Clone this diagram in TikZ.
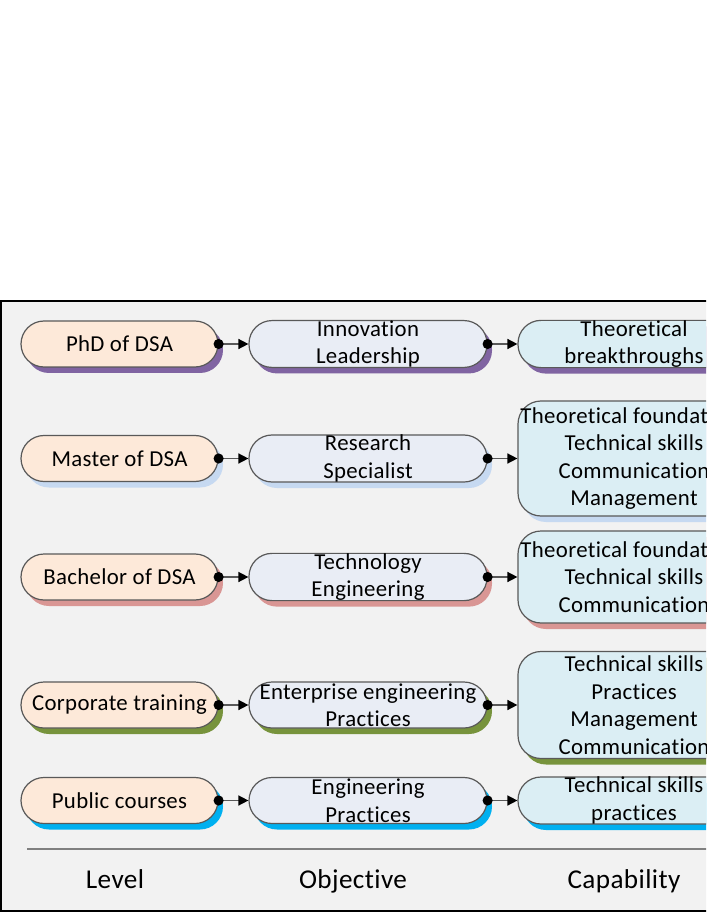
\documentclass[tikz,border=0pt]{standalone}
\usepackage{xcolor}
\usepackage{fontspec}
\setmainfont{Carlito}[Ligatures=NoCommon, LetterSpace=1.5]
\usepackage{tikz}
\usetikzlibrary{arrows.meta,shadows}

\definecolor{bggray}{HTML}{F2F2F2}
\definecolor{levelfill}{HTML}{FDE9D9}
\definecolor{objfill}{HTML}{E9EDF5}
\definecolor{capfill}{HTML}{DBEEF4}
\definecolor{phdshade}{HTML}{8064A2}
\definecolor{mastershade}{HTML}{C6D9F1}
\definecolor{bachshade}{HTML}{D99694}
\definecolor{corpshade}{HTML}{77933C}
\definecolor{pubshade}{HTML}{00B0F0}

\begin{document}
\begin{tikzpicture}[
    x=0.5pt, y=-0.5pt,
    box/.style={
        draw=black!65,
        line width=0.6pt,
        rounded corners=11.5pt,
        align=center,
        inner sep=0pt,
        minimum height=23pt,
        font=\fontsize{11.4}{13.75}\selectfont
    },
    levelbox/.style={box, fill=levelfill, minimum width=98.5pt},
    objbox/.style={box, fill=objfill, minimum width=119pt},
    capbox/.style={box, fill=capfill, minimum width=116pt},
    backing/.style={
        drop shadow={shadow xshift=2.5pt, shadow yshift=-3pt, fill=#1, opacity=1}
    },
    link/.style={
        draw=black!65,
        line width=0.75pt,
        shorten <=-2.5pt,
        {Circle[length=5pt,black]}-{Triangle[length=5pt,width=5pt,black]}
    },
    colhead/.style={font=\fontsize{13.6}{16}\selectfont, anchor=base}
]
    \useasboundingbox (0,0) rectangle (706,913);
    \clip (0,0) rectangle (706,913);
    \fill[white] (0,0) rectangle (706,913);
    \draw[fill=bggray, line width=1pt] (1,301) rectangle (780,911);

    \node[levelbox, backing=phdshade] (phd) at (119.5,344) {PhD of DSA};
    \node[objbox, backing=phdshade] (phdobj) at (368,344) {Innovation\\Leadership};
    \node[capbox, backing=phdshade] (phdcap) at (634,344) {Theoretical\\breakthroughs};

    \node[levelbox, backing=mastershade] (master) at (119.5,458.5) {Master of DSA};
    \node[objbox, backing=mastershade] (masterobj) at (368,458.5) {Research\\Specialist};
    \node[capbox, backing=mastershade, minimum height=57.5pt] (mastercap) at (634,458.5)
        {Theoretical foundations\\Technical skills\\Communication\\Management};

    \node[levelbox, backing=bachshade] (bachelor) at (119.5,577) {Bachelor of DSA};
    \node[objbox, backing=bachshade] (bachelorobj) at (368,577) {Technology\\Engineering};
    \node[capbox, backing=bachshade, minimum height=46pt] (bachelorcap) at (634,577)
        {Theoretical foundations\\Technical skills\\Communication};

    \node[levelbox, backing=corpshade] (corporate) at (119.5,705) {Corporate training};
    \node[objbox, backing=corpshade] (corporateobj) at (368,705) {Enterprise engineering\\Practices};
    \node[capbox, backing=corpshade, minimum height=53.5pt] (corporatecap) at (634,705)
        {Technical skills\\Practices\\Management\\Communication};

    \node[levelbox, backing=pubshade] (public) at (119.5,800.5) {Public courses};
    \node[objbox, backing=pubshade] (publicobj) at (368,800.5) {Engineering\\Practices};
    \node[capbox, backing=pubshade] (publiccap) at (634,800.5) {Technical skills\\practices};

    \foreach \row in {phd,master,bachelor,corporate,public} {
        \draw[link] (\row.east) -- (\row obj.west);
        \draw[link] (\row obj.east) -- (\row cap.west);
    }

    \draw[black!50, line width=1pt] (27,849) -- (780,849);

    \node[colhead] (level) at (115,888) {Level};
    \node[colhead] (objective) at (353,888) {Objective};
    \node[colhead] (capability) at (624,888) {Capability};
\end{tikzpicture}
\end{document}
